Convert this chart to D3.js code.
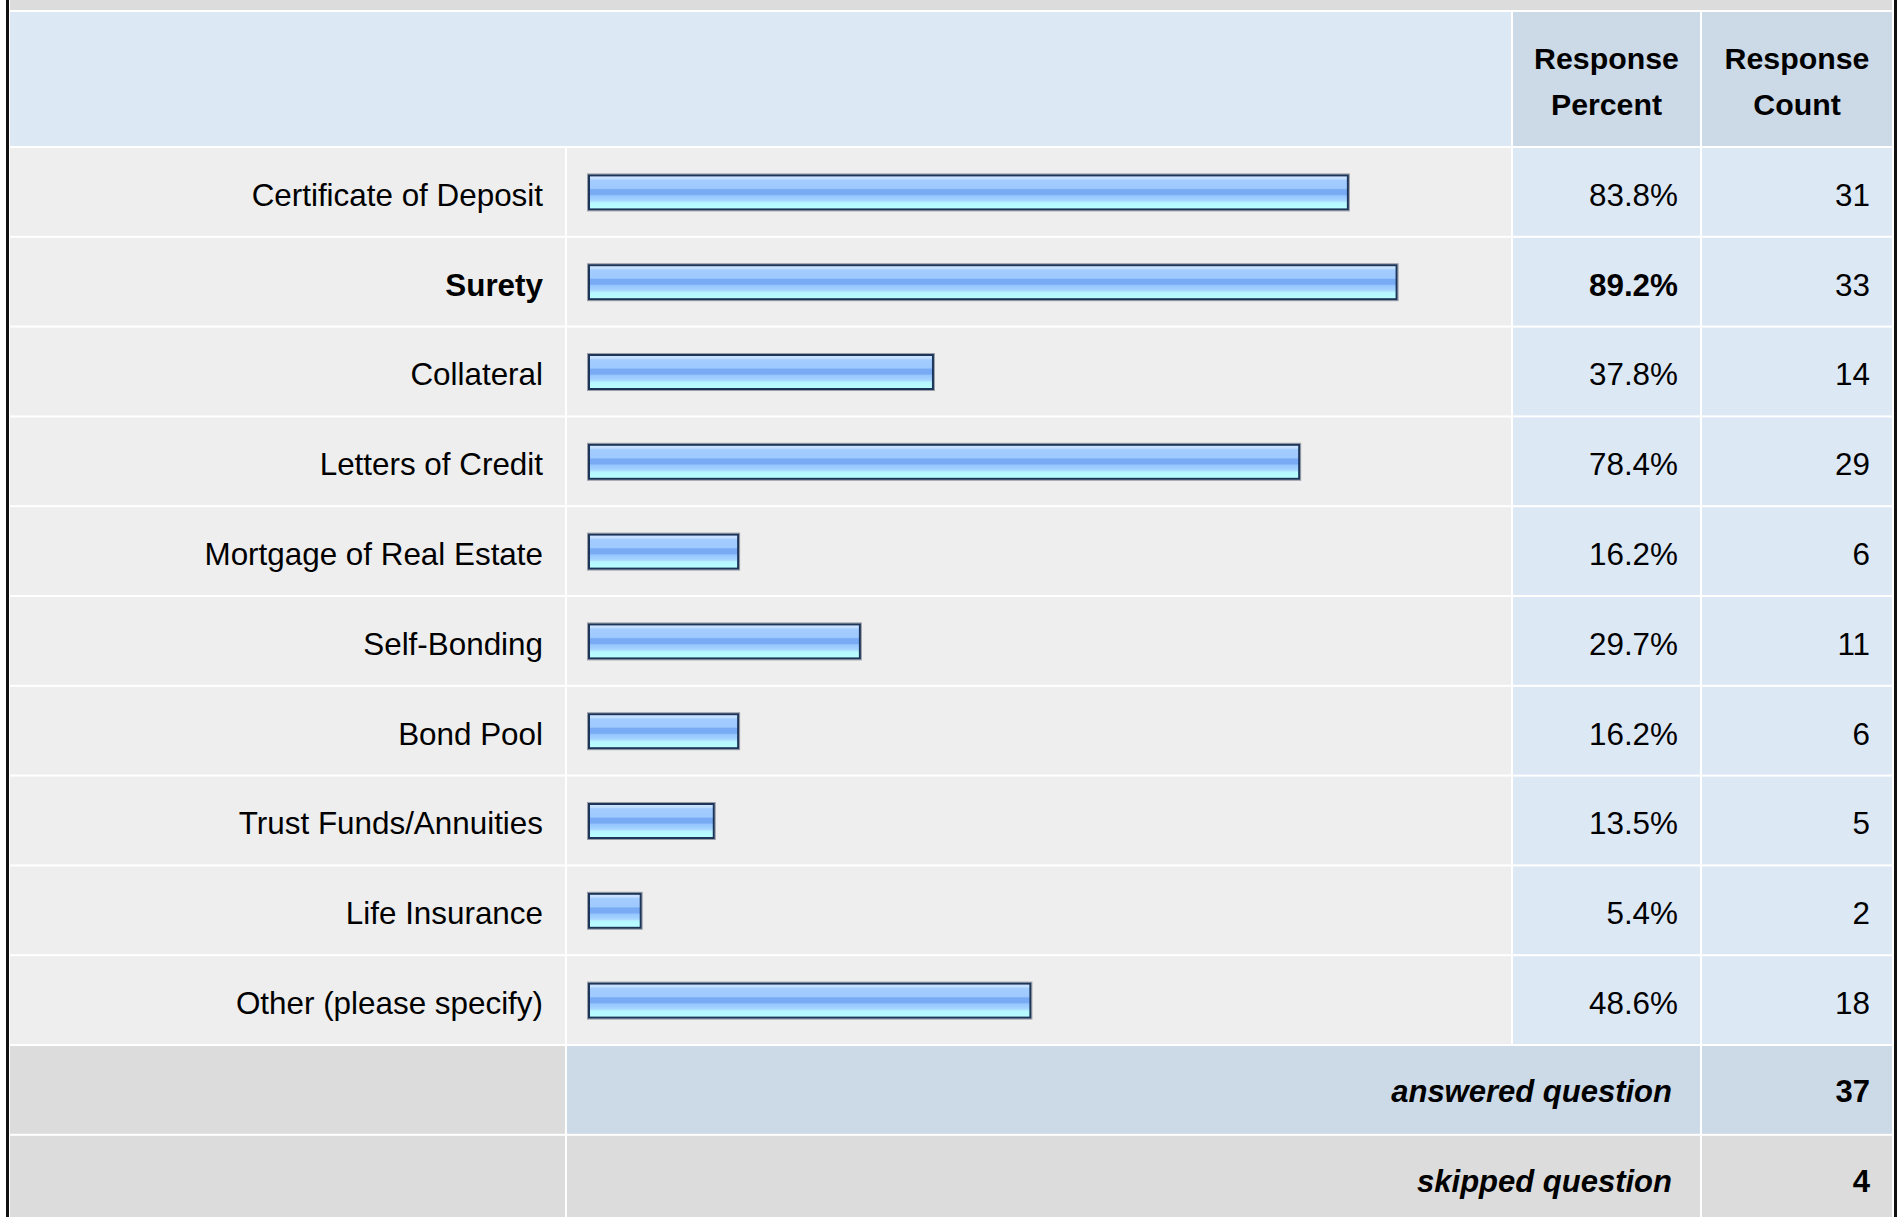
<!DOCTYPE html>
<html>
<head>
<meta charset="utf-8">
<script src="https://cdn.jsdelivr.net/npm/d3@7"></script>
<style>
  body { margin: 0; background: #fff; }
  svg text { font-family: "Liberation Sans", Arial, Helvetica, sans-serif; fill: #000; }
</style>
</head>
<body>
<div id="chart"></div>
<script>
// survey answers
const categories = [
    "Certificate of Deposit",
    "Surety",
    "Collateral",
    "Letters of Credit",
    "Mortgage of Real Estate",
    "Self-Bonding",
    "Bond Pool",
    "Trust Funds/Annuities",
    "Life Insurance",
    "Other (please specify)"
];
const percents = [83.8, 89.2, 37.8, 78.4, 16.2, 29.7, 16.2, 13.5, 5.4, 48.6];
const counts = [31, 33, 14, 29, 6, 11, 6, 5, 2, 18];
const headerLines = [["Response", "Percent"], ["Response", "Count"]];
const footerLabels = ["answered question", "skipped question"];
const footerCounts = [37, 4];

const width = 1903, height = 1217;

// column edges
const col = {
    left: 10,
    label: 565,
    bar: 1511,
    pct: 1700,
    right: 1892
};
const gap = 2;
const headerTop = 12, headerBottom = 146;
const rowH = 89.8;
const fontSize = "31.4px";

const rows = categories.map((c, i) => ({name: c, pct: percents[i], count: counts[i]}));
const maxPct = d3.max(percents);

const svg = d3.select("#chart")
    .append("svg")
    .attr("width", width)
    .attr("height", height);

// gradient for the bars
const grad = svg.append("defs").append("linearGradient")
    .attr("id", "barGrad")
    .attr("x1", 0).attr("x2", 0).attr("y1", 0).attr("y2", 1);
[
    [0, "#cfe5ff"], [0.1, "#c2deff"], [0.14, "#a3ccff"], [0.38, "#9fcaff"],
    [0.42, "#78abf3"], [0.56, "#78abf3"], [0.6, "#97c6ff"], [0.7, "#a0d0ff"],
    [0.76, "#acdcff"], [0.8, "#b6f6ff"], [1, "#b8ffff"]
].forEach(s => grad.append("stop").attr("offset", s[0]).attr("stop-color", s[1]));

const y = d3.scaleBand()
    .domain(d3.range(categories.length + footerLabels.length))
    .range([headerBottom + 1, headerBottom + 1 + rowH * (categories.length + footerLabels.length)]);

const x = d3.scaleLinear()
    .domain([0, 100])
    .range([592, 1494]);
const barPad = 3; // bars start a little left of zero

// outer frame
svg.append("rect").attr("x", 6).attr("y", 0).attr("width", 3).attr("height", height).attr("fill", "#111");
svg.append("rect").attr("x", 1894).attr("y", 0).attr("width", 3).attr("height", height).attr("fill", "#111");
svg.append("rect").attr("x", col.left).attr("y", 0).attr("width", col.right - col.left).attr("height", 10).attr("fill", "#dcdcdc");

// header
const header = svg.append("g");
header.append("rect")
    .attr("x", col.left).attr("y", headerTop)
    .attr("width", col.bar - col.left).attr("height", headerBottom - headerTop)
    .attr("fill", "#dde8f5");
[[col.bar, col.pct], [col.pct, col.right]].forEach((c, i) => {
    header.append("rect")
        .attr("x", c[0] + gap).attr("y", headerTop)
        .attr("width", c[1] - c[0] - gap).attr("height", headerBottom - headerTop)
        .attr("fill", "#ccd9e7");
    header.append("text")
        .attr("x", (c[0] + gap + c[1]) / 2)
        .attr("text-anchor", "middle")
        .style("font-size", "30.3px")
        .style("font-weight", "bold")
        .selectAll("tspan")
        .data(headerLines[i])
        .join("tspan")
        .attr("x", (c[0] + gap + c[1]) / 2)
        .attr("y", (d, j) => 58 + j * 46)
        .attr("dy", "0.35em")
        .text(d => d);
});

// answer rows
const row = svg.append("g")
    .selectAll("g")
    .data(rows)
    .join("g")
    .attr("transform", (d, i) => `translate(0,${y(i)})`);

const cellH = y.bandwidth() - gap;
row.append("rect").attr("x", col.left).attr("y", 1).attr("width", col.label - col.left).attr("height", cellH).attr("fill", "#eeeeee");
row.append("rect").attr("x", col.label + gap).attr("y", 1).attr("width", col.bar - col.label - gap).attr("height", cellH).attr("fill", "#eeeeee");
row.append("rect").attr("x", col.bar + gap).attr("y", 1).attr("width", col.pct - col.bar - gap).attr("height", cellH).attr("fill", "#dde8f5");
row.append("rect").attr("x", col.pct + gap).attr("y", 1).attr("width", col.right - col.pct - gap).attr("height", cellH).attr("fill", "#dde8f5");

const mid = y.bandwidth() / 2 + 0.5;
const textY = mid + 2.5;
const barH = 34;

// bar shadow + bar
row.append("rect")
    .attr("x", x(0) - barPad - 1.5).attr("y", mid - barH / 2 - 1.5)
    .attr("width", d => x(d.pct) - x(0) + barPad + 3).attr("height", barH + 3)
    .attr("fill", "none").attr("stroke", "#9a9ea6").attr("stroke-width", 1);
row.append("rect")
    .attr("x", x(0) - barPad).attr("y", mid - barH / 2)
    .attr("width", d => x(d.pct) - x(0) + barPad).attr("height", barH)
    .attr("fill", "url(#barGrad)")
    .attr("stroke", "#1c3559").attr("stroke-width", 2);

row.append("text")
    .attr("x", 543).attr("y", textY).attr("dy", "0.35em")
    .attr("text-anchor", "end")
    .style("font-size", fontSize)
    .style("font-weight", d => d.pct === maxPct ? "bold" : "normal")
    .text(d => d.name);
row.append("text")
    .attr("x", 1678).attr("y", textY).attr("dy", "0.35em")
    .attr("text-anchor", "end")
    .style("font-size", fontSize)
    .style("font-weight", d => d.pct === maxPct ? "bold" : "normal")
    .text(d => d.pct.toFixed(1) + "%");
row.append("text")
    .attr("x", 1870).attr("y", textY).attr("dy", "0.35em")
    .attr("text-anchor", "end")
    .style("font-size", fontSize)
    .text(d => d.count);

// footer rows
const foot = svg.append("g")
    .selectAll("g")
    .data(footerLabels)
    .join("g")
    .attr("transform", (d, i) => `translate(0,${y(categories.length + i)})`);

foot.append("rect").attr("x", col.left).attr("y", 1).attr("width", col.label - col.left).attr("height", cellH).attr("fill", "#dcdcdc");
foot.append("rect").attr("x", col.label + gap).attr("y", 1).attr("width", col.pct - col.label - gap).attr("height", cellH)
    .attr("fill", (d, i) => i === 0 ? "#ccd9e7" : "#dcdcdc");
foot.append("rect").attr("x", col.pct + gap).attr("y", 1).attr("width", col.right - col.pct - gap).attr("height", cellH)
    .attr("fill", (d, i) => i === 0 ? "#ccd9e7" : "#dcdcdc");

foot.append("text")
    .attr("x", 1672).attr("y", mid + 1).attr("dy", "0.35em")
    .attr("text-anchor", "end")
    .style("font-size", "31px")
    .style("font-weight", "bold")
    .style("font-style", "italic")
    .text(d => d);
foot.append("text")
    .attr("x", 1870).attr("y", mid + 1).attr("dy", "0.35em")
    .attr("text-anchor", "end")
    .style("font-size", "31px")
    .style("font-weight", "bold")
    .text((d, i) => footerCounts[i]);
</script>
</body>
</html>
